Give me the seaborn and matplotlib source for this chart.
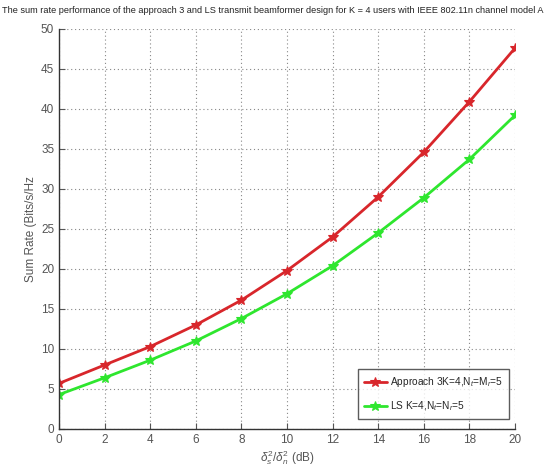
import matplotlib
matplotlib.use("Agg")
import matplotlib.pyplot as plt
import seaborn as sns
import pandas as pd
from matplotlib import font_manager

snr_db = [0, 2, 4, 6, 8, 10, 12, 14, 16, 18, 20]
approach3 = [5.7, 8.0, 10.3, 13.0, 16.1, 19.8, 24.0, 29.0, 34.6, 40.9, 47.6]
ls = [4.3, 6.4, 8.6, 11.0, 13.8, 16.9, 20.4, 24.5, 28.9, 33.7, 39.2]
labels = ["Approach 3K=4,N$_t$=M$_r$=5", "LS K=4,N$_t$=N$_r$=5"]
x_ticks = [0, 2, 4, 6, 8, 10, 12, 14, 16, 18, 20]
y_ticks = [0, 5, 10, 15, 20, 25, 30, 35, 40, 45, 50]

df = pd.concat([
    pd.DataFrame({"x": snr_db, "y": approach3, "series": labels[0]}),
    pd.DataFrame({"x": snr_db, "y": ls, "series": labels[1]}),
])

sns.set_style("white")
names = {f.name for f in font_manager.fontManager.ttflist}
fam = "Liberation Sans Narrow" if "Liberation Sans Narrow" in names else "Liberation Sans"
plt.rcParams["font.family"] = [fam, "DejaVu Sans"]
plt.rcParams["mathtext.fontset"] = "custom"
plt.rcParams["mathtext.rm"] = fam
plt.rcParams["mathtext.it"] = fam + ":italic"

fig = plt.figure(figsize=(5.49, 4.69), dpi=100)
ax = fig.add_axes([0.1075, 0.0853, 0.8305, 0.853])

palette = {labels[0]: "#d8262b", labels[1]: "#2ee62e"}
sns.lineplot(data=df, x="x", y="y", hue="series", palette=palette, ax=ax,
             marker="*", markersize=7, markeredgewidth=0.8, linewidth=2, legend=True)
for ln in ax.get_lines():
    ln.set_markeredgecolor(ln.get_color())

ax.set_xlim(0, 20)
ax.set_ylim(0, 50)
ax.set_xticks(x_ticks)
ax.set_yticks(y_ticks)
ax.grid(True, linestyle=(0, (1, 2.5)), color="#888888", linewidth=0.8)
for s in ["top", "right"]:
    ax.spines[s].set_visible(False)
for s in ["left", "bottom"]:
    ax.spines[s].set_color("#333333")
    ax.spines[s].set_linewidth(1.0)
ax.tick_params(direction="in", length=4, labelsize=8.5, colors="#555555", left=True, bottom=True)

ax.set_xlabel(r"$\delta_s^2/\delta_n^2$ (dB)", fontsize=8.5, color="#555555", labelpad=2)
ax.set_ylabel("Sum Rate (Bits/s/Hz", fontsize=8.5, color="#555555", labelpad=3)
fig.text(0.004, 0.988, "The sum rate performance of the approach 3 and LS transmit beamformer design for K = 4 users with IEEE 802.11n channel model A",
         fontsize=6.6, ha="left", va="top", color="#222222")

leg = ax.legend(loc="lower right", fontsize=7.3, frameon=True, fancybox=False,
                edgecolor="#333333", borderpad=0.6, labelspacing=1.0, handlelength=2.2,
                handletextpad=0.3, bbox_to_anchor=(0.997, 0.012))
leg.get_frame().set_linewidth(1.0)
leg.set_title(None)

fig.savefig("out.png", dpi=100, facecolor="white")
